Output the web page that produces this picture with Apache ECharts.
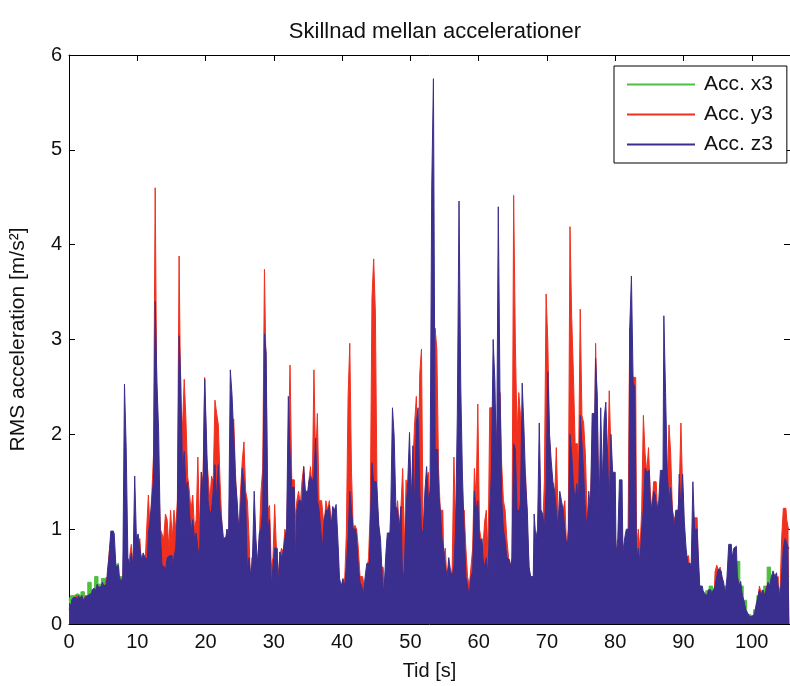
<!DOCTYPE html>
<html>
<head>
<meta charset="utf-8">
<script src="https://cdn.jsdelivr.net/npm/echarts@6/dist/echarts.min.js"></script>
<style>
html,body{margin:0;padding:0;background:#fff;}
#chart{width:790px;height:686px;}
</style>
</head>
<body>
<div id="chart"></div>
<script>
// Sampling step of the typed series (seconds)
const DT_YZ = 0.25;
const DT_X = 0.5;

// Acc. z3 (blue), one line per second (t = 0 .. 105.5)
const accZ3 = [
0.22,0.2,0.25,0.28,
0.28,0.26,0.3,0.27,
0.3,0.25,0.28,0.3,
0.32,0.26,0.35,0.38,
0.35,0.42,0.38,0.4,
0.44,0.4,0.42,0.55,
0.72,0.98,0.98,0.95,
0.6,0.62,0.5,0.44,
0.5,2.53,1.86,0.7,
0.62,0.75,0.6,1.56,
0.9,0.95,0.8,0.68,
0.75,0.7,0.68,0.95,
1.1,1.3,1.52,3.4,
2.56,2.04,0.96,0.62,
0.6,0.56,0.7,0.72,
0.72,0.6,0.7,0.8,
1.2,3.04,2.56,1.6,
1.82,1.44,1.5,1.2,
0.96,1.1,0.9,0.96,
0.8,0.7,1.6,1.4,
2.58,2.0,1.3,1.16,
1.2,1.4,1.68,1.3,
1.68,1.2,1.08,0.9,
0.92,1.0,0.92,2.68,
2.42,2.0,1.52,1.3,
0.96,1.2,1.64,1.5,
1.3,0.56,0.7,0.5,
0.7,1.4,0.9,0.64,
0.96,1.0,1.2,3.06,
2.86,1.0,1.1,0.4,
0.6,0.8,0.8,0.36,
0.76,0.7,0.76,0.9,
1.0,2.4,1.8,1.44,
1.44,0.6,1.2,1.3,
1.3,1.2,1.66,1.4,
1.4,1.5,1.56,1.5,
1.56,1.96,1.3,1.2,
1.0,0.8,1.1,1.2,
1.2,1.25,1.0,1.24,
1.2,1.26,0.9,0.48,
0.4,0.48,0.4,0.6,
0.9,1.4,1.2,1.0,
1.0,0.9,0.6,0.44,
0.4,0.3,0.5,0.64,
0.64,1.0,1.7,1.5,
1.5,1.4,1.04,0.9,
0.5,0.3,0.7,0.96,
0.96,1.2,2.28,1.98,
1.24,1.2,1.0,1.24,
0.4,0.6,1.2,1.52,
2.02,1.3,1.88,1.2,
2.12,2.28,1.4,1.0,
0.96,1.4,1.66,1.3,
1.4,4.6,5.75,1.84,
1.84,1.4,1.2,0.9,
0.8,0.6,0.5,0.7,
0.56,0.5,0.6,1.0,
2.2,4.46,2.52,1.56,
1.0,0.5,0.4,0.3,
0.5,0.56,1.4,1.2,
1.3,0.88,0.9,0.7,
0.6,0.7,0.5,1.2,
1.6,3.0,2.56,1.6,
4.4,2.44,1.3,1.0,
0.88,0.7,0.68,0.6,
0.68,1.9,1.84,1.2,
1.2,1.3,2.54,2.08,
1.5,1.2,0.6,0.5,
0.5,1.16,0.9,1.0,
2.12,1.2,1.16,1.0,
1.4,2.66,2.0,1.72,
1.5,1.4,1.2,1.0,
1.4,1.3,1.2,1.0,
0.84,0.9,2.0,1.8,
1.48,1.3,1.48,1.3,
2.2,1.9,1.6,1.2,
1.0,1.4,1.2,2.22,
2.22,2.8,2.4,1.1,
2.28,1.5,2.16,2.34,
1.8,1.2,2.0,1.6,
1.6,0.72,0.9,1.52,
1.52,0.76,0.9,1.0,
1.0,3.12,3.67,2.54,
2.5,0.64,0.8,0.64,
1.0,1.2,1.64,1.6,
1.62,1.3,1.2,1.4,
1.36,1.2,1.3,1.62,
1.62,3.25,2.44,1.6,
1.3,1.44,1.2,1.0,
1.2,1.2,1.58,1.2,
1.58,1.08,0.8,0.64,
0.64,0.6,1.5,1.0,
1.0,0.8,0.4,0.4,
0.35,0.32,0.3,0.36,
0.36,0.32,0.36,0.4,
0.5,0.58,0.56,0.5,
0.44,0.3,0.5,0.84,
0.84,0.7,0.8,0.82,
0.52,0.4,0.45,0.3,
0.24,0.15,0.12,0.08,
0.08,0.1,0.12,0.2,
0.28,0.36,0.3,0.36,
0.3,0.36,0.44,0.4,
0.5,0.56,0.5,0.54,
0.4,0.28,0.5,0.8,
0.9,0.85,0.8
];

// Acc. y3 (red), one line per second (t = 0 .. 105.5)
const accY3 = [
0.15,0.18,0.2,0.22,
0.25,0.3,0.28,0.22,
0.28,0.24,0.3,0.25,
0.3,0.28,0.3,0.35,
0.3,0.36,0.4,0.35,
0.4,0.38,0.45,0.5,
0.75,0.9,0.85,0.8,
0.55,0.6,0.45,0.42,
0.45,1.2,1.0,0.6,
0.7,0.84,0.6,0.9,
0.8,0.85,0.9,0.6,
0.7,0.6,1.0,1.36,
1.0,1.36,1.78,4.6,
2.2,1.6,1.0,0.95,
0.9,1.16,1.1,0.8,
1.2,0.9,1.2,1.0,
1.3,3.88,2.2,2.08,
2.58,2.16,1.56,1.4,
1.2,1.36,1.0,1.1,
1.76,1.0,1.6,1.5,
2.6,1.8,1.56,1.3,
1.56,1.5,2.36,2.22,
2.1,1.5,1.08,0.4,
0.8,1.0,0.8,1.8,
2.0,2.16,1.6,1.2,
1.0,1.4,1.72,1.92,
1.4,1.3,0.9,0.3,
0.6,1.0,0.7,0.6,
0.9,1.4,1.64,3.74,
2.6,1.2,1.25,0.6,
0.7,1.26,0.8,0.5,
0.7,0.8,0.76,1.0,
0.9,1.9,2.73,1.52,
1.52,1.1,1.3,1.4,
1.25,1.5,1.66,1.2,
1.3,1.5,1.66,1.4,
2.68,1.7,2.22,1.3,
1.3,1.2,1.0,1.3,
1.2,1.3,1.1,1.0,
1.1,1.0,0.8,0.2,
0.3,0.2,0.45,0.96,
2.4,2.96,1.6,1.0,
1.04,1.0,0.8,0.5,
0.5,0.45,0.4,0.55,
0.7,1.2,3.44,3.85,
3.28,1.3,1.0,0.6,
0.6,0.5,0.4,0.9,
0.9,1.0,1.2,1.3,
1.1,1.3,1.0,1.24,
1.64,0.8,1.52,1.2,
1.8,1.0,1.7,2.12,
2.4,1.5,2.64,2.9,
0.9,1.2,1.5,1.6,
1.2,1.6,2.0,3.12,
2.9,1.64,1.2,1.2,
0.7,0.8,0.4,0.5,
0.5,0.6,1.76,1.0,
1.6,1.8,1.2,1.0,
1.2,0.8,0.5,0.4,
0.6,0.8,1.64,1.3,
2.32,1.0,0.88,0.8,
1.08,1.2,0.7,2.28,
2.28,2.0,2.3,1.96,
1.5,2.44,1.68,1.3,
1.2,0.9,0.7,0.6,
0.7,4.52,2.96,2.0,
2.44,2.2,2.0,1.2,
1.56,1.0,0.6,0.4,
0.35,0.6,0.9,0.8,
1.0,1.2,1.0,1.5,
3.48,2.98,2.0,1.5,
1.4,1.3,1.86,1.2,
1.1,1.0,1.2,1.3,
0.8,1.0,4.19,3.24,
2.64,1.9,1.9,1.6,
3.32,2.2,2.12,1.8,
1.2,1.0,1.3,1.9,
1.9,2.96,2.2,1.2,
1.6,1.4,1.8,2.0,
1.5,2.46,1.8,1.3,
1.2,0.8,0.8,1.3,
1.2,0.7,0.72,0.8,
0.9,3.12,2.66,2.6,
2.6,0.78,1.0,0.78,
1.2,2.2,1.8,1.6,
1.86,1.4,1.2,1.5,
1.5,1.3,1.0,1.2,
1.3,1.2,1.5,1.4,
2.1,1.8,1.2,1.1,
1.15,1.1,1.4,2.12,
1.4,0.9,0.7,0.72,
0.6,0.5,0.9,1.12,
1.12,0.7,0.35,0.3,
0.3,0.25,0.3,0.3,
0.3,0.3,0.3,0.55,
0.62,0.56,0.6,0.5,
0.4,0.3,0.4,0.6,
0.7,0.65,0.6,0.7,
0.5,0.4,0.35,0.3,
0.2,0.12,0.1,0.06,
0.06,0.08,0.1,0.15,
0.25,0.4,0.32,0.35,
0.3,0.4,0.38,0.35,
0.45,0.5,0.48,0.5,
0.35,0.3,0.9,1.22,
1.22,1.1,1.0
];

// Acc. x3 (green), ten values per 5 seconds (t = 0 .. 105.5)
const accX3 = [
0.25,0.3,0.32,0.3,0.34,0.3,0.44,0.36,0.5,0.42,
0.48,0.5,0.6,0.62,0.64,0.5,0.45,0.5,0.55,0.5,
0.5,0.55,0.45,0.6,0.7,0.8,0.7,0.6,0.55,0.5,
0.6,0.5,0.8,0.7,0.8,0.7,0.6,0.5,0.6,0.7,
0.7,0.6,0.6,0.5,0.6,0.8,0.7,0.5,0.4,0.6,
0.5,0.6,0.55,0.5,0.7,0.6,0.5,0.4,0.5,0.3,
0.3,0.4,0.4,0.3,0.5,0.6,0.6,0.5,0.6,0.7,
0.6,0.7,0.7,0.5,0.6,0.6,0.6,0.5,0.4,0.3,
0.3,0.35,0.5,0.6,0.5,0.4,0.3,0.3,0.4,0.6,
0.6,0.5,0.4,0.3,0.5,0.7,0.6,0.5,0.3,0.6,
0.7,0.6,0.8,0.7,0.5,0.6,0.7,0.8,0.6,0.5,
0.4,0.3,0.35,0.4,0.7,0.6,0.4,0.3,0.3,0.6,
0.6,0.5,0.5,0.4,0.7,0.8,0.6,0.5,0.5,0.45,
0.5,0.6,0.7,0.7,0.5,0.4,0.35,0.5,0.6,0.6,
0.7,0.7,0.6,0.6,0.6,0.5,0.5,0.6,0.7,0.6,
0.7,0.6,0.6,0.7,0.7,0.8,0.7,0.7,0.6,0.6,
0.6,0.5,0.5,0.5,0.7,0.8,0.5,0.5,0.6,0.7,
0.7,0.6,0.6,0.7,0.8,0.7,0.6,0.6,0.6,0.6,
0.5,0.45,0.5,0.55,0.4,0.3,0.3,0.35,0.4,0.35,
0.4,0.45,0.4,0.4,0.5,0.5,0.66,0.4,0.25,0.1,
0.08,0.15,0.3,0.35,0.4,0.6,0.4,0.42,0.38,0.3,
0.5,0.5
];

const seriesNames = ['Acc. x3', 'Acc. y3', 'Acc. z3'];
const xTickStep = 10;
const yTickStep = 1;

const COLORS = ['#4fbf3f', '#f0301f', '#3a2f8e'];
const FONT = 'Liberation Sans, Arial, sans-serif';

const toPairs = (arr, dt) => arr.map((v, i) => [+(i * dt).toFixed(2), v]);

const chart = echarts.init(document.getElementById('chart'), null, {renderer: 'canvas'});

const axisLineStyle = {color: '#000', width: 1};
const baseX = {
  type: 'value', min: 0, max: 105.6, interval: xTickStep,
  splitLine: {show: false},
  axisLine: {show: true, onZero: false, lineStyle: axisLineStyle},
  axisTick: {show: true, inside: true, length: 6, lineStyle: axisLineStyle}
};
const baseY = {
  type: 'value', min: 0, max: 6, interval: yTickStep,
  splitLine: {show: false},
  axisLine: {show: true, onZero: false, lineStyle: axisLineStyle},
  axisTick: {show: true, inside: true, length: 6, lineStyle: axisLineStyle}
};

function mkSeries(idx, data) {
  return {
    name: seriesNames[idx],
    type: 'line',
    data: data,
    step: 'middle',
    showSymbol: false,
    symbol: 'none',
    animation: false,
    color: COLORS[idx],
    lineStyle: {color: COLORS[idx], width: 1},
    areaStyle: {color: COLORS[idx], opacity: 1, origin: 'start'},
    z: 2 + idx
  };
}

chart.setOption({
  animation: false,
  backgroundColor: '#fff',
  textStyle: {fontFamily: FONT, color: '#111'},
  title: {
    text: 'Skillnad mellan accelerationer',
    left: 430, top: 16, textAlign: 'center',
    textStyle: {fontFamily: FONT, fontSize: 22, fontWeight: 'normal', color: '#111'}
  },
  grid: {left: 68, top: 55, right: -2, bottom: 57, containLabel: false},
  legend: {
    data: seriesNames.map(n => ({name: n, icon: 'rect'})),
    orient: 'vertical',
    left: 614, top: 66,
    itemWidth: 68, itemHeight: 2,
    itemGap: 9,
    padding: [8, 14, 8, 13],
    borderColor: '#000', borderWidth: 1,
    backgroundColor: '#fff',
    selectedMode: false,
    textStyle: {fontFamily: FONT, fontSize: 21, color: '#111', padding: [0, 0, 0, 4]}
  },
  xAxis: [
    Object.assign({}, baseX, {
      position: 'bottom',
      name: 'Tid [s]', nameLocation: 'middle', nameGap: 37,
      nameTextStyle: {fontFamily: FONT, fontSize: 20, color: '#111'},
      axisLabel: {show: true, margin: 8, fontSize: 20, color: '#111', fontFamily: FONT, showMaxLabel: false}
    }),
    Object.assign({}, baseX, {position: 'top', axisLabel: {show: false}})
  ],
  yAxis: [
    Object.assign({}, baseY, {
      position: 'left',
      name: 'RMS acceleration [m/s²]', nameLocation: 'middle', nameGap: 40, nameRotate: 90,
      nameTextStyle: {fontFamily: FONT, fontSize: 21, color: '#111'},
      axisLabel: {show: true, margin: 7, fontSize: 20, color: '#111', fontFamily: FONT}
    }),
    Object.assign({}, baseY, {position: 'right', axisLabel: {show: false}})
  ],
  series: [
    mkSeries(0, toPairs(accX3, DT_X)),
    mkSeries(1, toPairs(accY3, DT_YZ)),
    mkSeries(2, toPairs(accZ3, DT_YZ))
  ]
});
</script>
</body>
</html>
